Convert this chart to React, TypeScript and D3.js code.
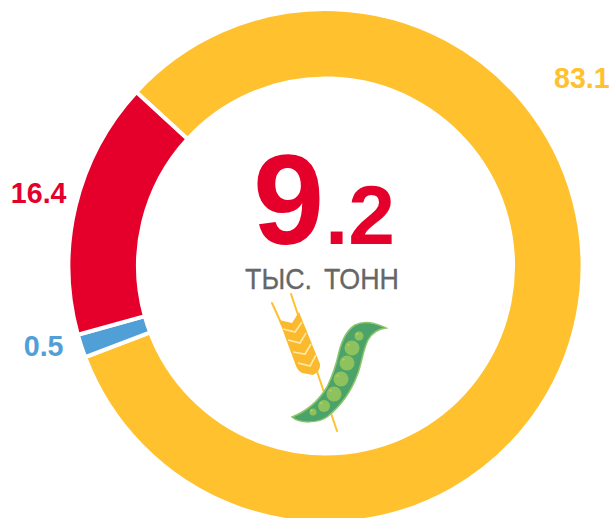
import React from "react";
import * as d3 from "d3";

const categories = ["Жёлтый", "Синий", "Красный"];
const labels = ["83.1", "0.5", "16.4"];
const arcValues = [82.4, 1.46, 16.14];
const colors = ["#FFC12E", "#519FD7", "#E4002B"];
const centerMain = "9";
const centerDecimal = ".2";
const centerUnit = "ТЫС. ТОНН";

const W = 611, H = 518;
const cx = 325.5, cy = 266, R = 257, r = 187.5;
const startDeg = -47.4;
const font = "'Liberation Sans', Arial, sans-serif";

const pie = d3.pie<number>().sort(null)
  .startAngle((startDeg * Math.PI) / 180)
  .endAngle(((startDeg + 360) * Math.PI) / 180);
const arc = d3.arc<d3.PieArcDatum<number>>().innerRadius(r).outerRadius(R);
const arcs = pie(arcValues);
const labelPos: [number, number, string][] = [[554, 88, "start"], [63.5, 355.5, "end"], [66.5, 203, "end"]];

const peas: [number, number, number][] = [[359, 336, 4.5], [352, 348, 7.5], [347, 363, 7.5], [341, 379, 7.5], [334, 394, 7.5], [324, 406, 6], [313, 412, 3.5]];

export default function App() {
  return (
    <svg width={W} height={H} style={{ position: "absolute", left: 0, top: 0, background: "#fff" }} fontFamily={font}>
      <g transform={`translate(${cx},${cy})`}>
        {arcs.map((a, i) => (
          <path key={categories[i]} d={arc(a) ?? ""} fill={colors[i]} stroke="#fff" strokeWidth={4} />
        ))}
      </g>
      {labels.map((l, i) => (
        <text key={l} x={labelPos[i][0]} y={labelPos[i][1]} textAnchor={labelPos[i][2] as any}
          fill={colors[i]} fontSize={28.6} fontWeight={700}>{l}</text>
      ))}
      <text x={253} y={244} fill="#E4002B" fontWeight={700} fontSize={128}>{centerMain}</text>
      <text x={325} y={244} fill="#E4002B" fontWeight={700} fontSize={84}>{centerDecimal}</text>
      <text x={245} y={288.5} fill="#666" stroke="#666" strokeWidth={0.3} fontSize={29}
        textLength={154} lengthAdjust="spacingAndGlyphs" wordSpacing={5}>{centerUnit}</text>
      {/* wheat */}
      <g>
        <path d="M272 303 L282 325 M291 294 L337 431" stroke="#FFC12E" strokeWidth={2} fill="none" strokeLinecap="round" />
        <path d="M279 320 L292 323 L299 312 L320 364 Q321 371 313 375 L302 373 Q298 371 296 366 Z" fill="#FBBA2E" />
        <path d="M283 329 L295 332 L302 322 M288 340 L300 343 L306 333 M293 352 L305 354 L311 344 M298 363 L310 366 L316 355"
          stroke="#FFE9A8" strokeWidth={1.6} fill="none" />
      </g>
      {/* pea pod */}
      <path d="M292 417 C305 412 318 402 327 387 C333 375 336 366 339 352 C342 340 347 330 355 325 C365 320 378 324 386 328 C377 329 372 333 368 340 C363 350 362 362 358 373 C352 390 342 405 327 417 C318 423 300 424 292 417 Z"
        fill="#4CA36A" stroke="#8CC56A" strokeWidth={1.5} />
      {peas.map(([x, y, rad], i) => (
        <g key={i}>
          <circle cx={x} cy={y} r={rad} fill="#8DC25E" />
          <circle cx={x - rad * 0.45} cy={y - rad * 0.45} r={1} fill="#D9C84E" />
        </g>
      ))}
    </svg>
  );
}
